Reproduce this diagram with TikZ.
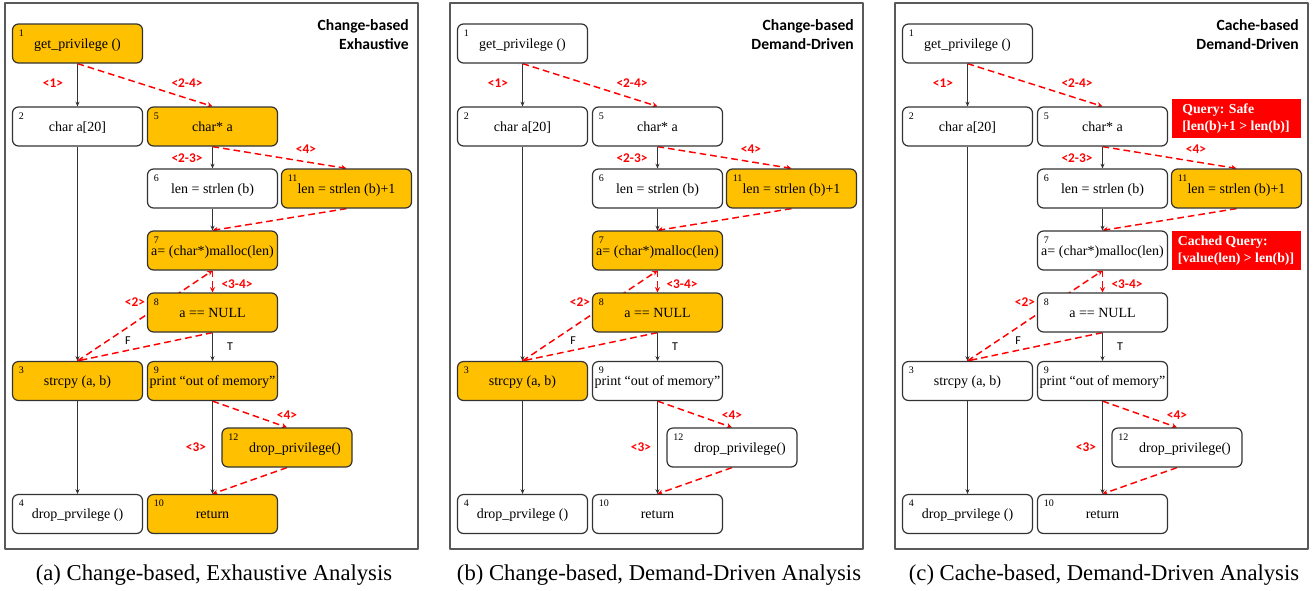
\documentclass[tikz,border=0pt]{standalone}
\usepackage{fontspec}
\setmainfont{Liberation Serif}
\newfontfamily\calfont{Carlito}
\newfontfamily\capfont{Liberation Serif}
\usetikzlibrary{arrows.meta,backgrounds}
\definecolor{gold}{HTML}{FFC000}
\definecolor{boxline}{HTML}{333333}
\tikzset{
  stmt/.style={draw=boxline, line width=.9pt, rounded corners=4.5pt, fill=white,
    minimum width=97.5pt, minimum height=29.25pt, inner sep=1pt,
    text height=9.5pt, text depth=2.5pt, font=\rmfamily\fontsize{10.5}{12}\selectfont},
  hot/.style={fill=gold},
  stmtno/.style={anchor=north west, inner sep=0pt, xshift=5pt, yshift=-4.5pt,
    text height=, text depth=, font=\rmfamily\fontsize{7.5}{8}\selectfont},
  flow/.style={-{Stealth[length=3.5pt,width=3pt]}, line width=.5pt, draw=black!80},
  slice/.style={-{Stealth[length=4pt,width=4pt]}, red, line width=1.1pt,
    dash pattern=on 5pt off 3pt},
  pathtag/.style={text=red, inner sep=0pt, font=\calfont\bfseries\fontsize{10}{12}\selectfont},
  branch/.style={inner sep=0pt, font=\calfont\fontsize{9}{10}\selectfont},
  ttl/.style={anchor=north east, align=right, inner sep=0pt,
    font=\calfont\bfseries\fontsize{11.7}{14.25}\selectfont},
  panel/.style={draw=black!65, line width=.8pt},
  subcap/.style={inner sep=0pt, font=\capfont\fontsize{17}{20}\selectfont},
  query/.style={fill=red, text=white, align=left, inner sep=0pt,
    minimum width=96.75pt, minimum height=29.25pt,
    font=\rmfamily\bfseries\fontsize{10.3}{12.75}\selectfont},
  n1/.style={}, n2/.style={}, n3/.style={}, n4/.style={}, n5/.style={}, n6/.style={},
  n7/.style={}, n8/.style={}, n9/.style={}, n10/.style={}, n11/.style={}, n12/.style={},
  % highlighted statements of each panel
  hota/.style={n1/.style=hot, n3/.style=hot, n5/.style=hot, n7/.style=hot, n8/.style=hot,
    n9/.style=hot, n10/.style=hot, n11/.style=hot, n12/.style=hot},
  hotb/.style={n3/.style=hot, n7/.style=hot, n8/.style=hot, n11/.style=hot},
  hotc/.style={n11/.style=hot}
}
\begin{document}
\begin{tikzpicture}[x=.75pt, y=-.75pt, line join=round]
\useasboundingbox (0,0) rectangle (1313,590);
\foreach \p/\dx/\ttl/\capt in {a/0/{Change-based\\Exhaustive}/{(a) Change-based, Exhaustive Analysis},
  b/445/{Change-based\\Demand-Driven}/{(b) Change-based, Demand-Driven Analysis},
  c/890/{Cache-based\\Demand-Driven}/{(c) Cache-based, Demand-Driven Analysis}}{
\begin{scope}[xshift=\dx*.75pt, hot\p]
  \draw[panel] (5,3) rectangle (418,549);
  \node[ttl] (\p-ttl) at (409,19.5) {\ttl};
  \node[subcap] (\p-cap) at (214,575) {\capt};
  % statements
  \foreach \n/\x/\y/\txt in {1/77.5/43.5/{get\_privilege ()}, 2/77.5/126.5/{char a[20]},
    3/77.5/381/{strcpy (a, b)}, 4/77.5/514/{drop\_prvilege ()}, 5/212.5/126.5/{char* a},
    6/212.5/188.5/{len = strlen (b)}, 7/212.5/250.5/{a= (char*)malloc(len)},
    8/212.5/312.5/{a == NULL}, 9/212.5/381/{print “out of memory”}, 10/212.5/514/{return},
    11/346.5/188.5/{len = strlen (b)+1}, 12/287/447.5/{\hspace{12pt}drop\_privilege()}}
    \node[stmt, n\n, label={[stmtno]north west:\n}] (\p\n) at (\x,\y) {\txt};
  % path numbers
  \foreach \k/\x/\y/\txt in {1/53/83/{<1>}, 2/187/83/{<2-4>}, 3/187/158/{<2-3>},
    4/306/149/{<4>}, 5/237/284/{<3-4>}, 6/135/302/{<2>}, 7/287/415/{<4>}, 8/196/447/{<3>}}
    \node[pathtag] (\p-tag\k) at (\x,\y) {\txt};
  \node[branch] (\p-F) at (128,341) {F};
  \node[branch] (\p-T) at (230,347) {T};
  \begin{pgfonlayer}{background}
    \foreach \s/\e in {1/2,2/3,3/4,5/6,6/7,8/9,9/10}
      \draw[flow] (\p\s.south) -- (\p\e.north);
    \foreach \s/\e in {1/5,5/11,11/7,7/8,8/3,9/12,12/10}
      \draw[slice] (\p\s.south) -- (\p\e.north);
    \draw[slice] (\p3.north) -- (\p7.south);
  \end{pgfonlayer}
\end{scope}
}
\node[query] (safeq) at (1236,118.5) {Query: Safe\\{[}len(b)+1 > len(b)]};
\node[query] (cacheq) at (1236,250.5) {Cached Query:\\{[}value(len) > len(b)]};
\end{tikzpicture}
\end{document}
